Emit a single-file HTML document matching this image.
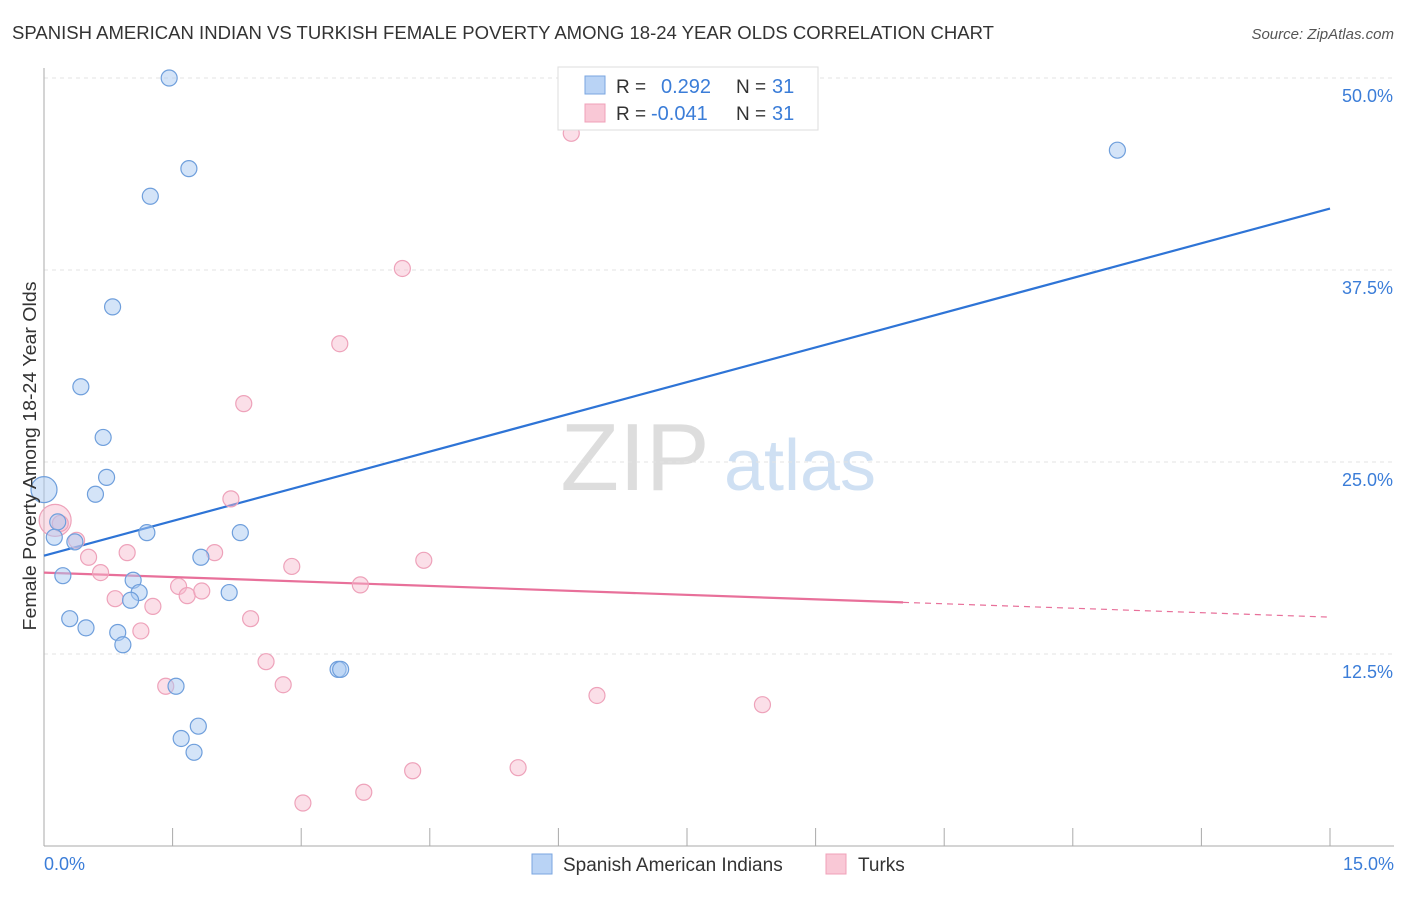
<!DOCTYPE html>
<html><head><meta charset="utf-8"><style>
body{margin:0;background:#fff;font-family:"Liberation Sans",sans-serif;}
svg text{font-family:"Liberation Sans",sans-serif;}
</style></head><body>
<svg id="chart" width="1406" height="892" xmlns="http://www.w3.org/2000/svg">
<text x="12" y="39" font-size="18" fill="#333" textLength="982" lengthAdjust="spacingAndGlyphs">SPANISH AMERICAN INDIAN VS TURKISH FEMALE POVERTY AMONG 18-24 YEAR OLDS CORRELATION CHART</text>
<text x="1394" y="39" font-size="15" fill="#555" text-anchor="end" font-style="italic">Source: ZipAtlas.com</text>
<text x="635" y="490" font-size="96" fill="#ddd" font-family="Liberation Serif" text-anchor="middle">ZIP</text>
<text x="800" y="490" font-size="72" fill="#cfe0f3" text-anchor="middle">atlas</text>
<g id="grid"></g><g id="axes"></g><g id="trends"></g><g id="points"></g>
<text x="36" y="456" font-size="18" fill="#333" text-anchor="middle" textLength="349" lengthAdjust="spacingAndGlyphs" transform="rotate(-90 36 456)">Female Poverty Among 18-24 Year Olds</text>
<text x="44" y="870" font-size="18" fill="#3b7dd8">0.0%</text>
<text x="1394" y="870" font-size="18" fill="#3b7dd8" text-anchor="end">15.0%</text>
<g>
<rect x="558" y="67" width="260" height="63" fill="#fff" stroke="#ddd"/>
<rect x="585" y="76" width="20" height="18" fill="#b9d3f5" stroke="#7aa6e0"/>
<rect x="585" y="104" width="20" height="18" fill="#f9c8d6" stroke="#f0a0b8"/>
<text x="616" y="93" font-size="19" fill="#333">R = </text><text x="661" y="93" font-size="20" fill="#3b7dd8">0.292</text>
<text x="736" y="93" font-size="19" fill="#333">N = </text><text x="772" y="93" font-size="20" fill="#3b7dd8">31</text>
<text x="616" y="120" font-size="19" fill="#333">R = </text><text x="651" y="120" font-size="20" fill="#3b7dd8">-0.041</text>
<text x="736" y="120" font-size="19" fill="#333">N = </text><text x="772" y="120" font-size="20" fill="#3b7dd8">31</text>
</g>
<g>
<rect x="532" y="854" width="20" height="20" fill="#b9d3f5" stroke="#7aa6e0"/>
<text x="563" y="871" font-size="19" fill="#333">Spanish American Indians</text>
<rect x="826" y="854" width="20" height="20" fill="#f9c8d6" stroke="#f0a0b8"/>
<text x="858" y="871" font-size="19" fill="#333">Turks</text>
</g>
</svg>
<script>
const yTicks=[12.5,25,37.5,50];
const yTickLabels=["12.5%","25.0%","37.5%","50.0%"];
const blueX=[1.46,1.69,1.24,0.80,0.43,0.69,0.73,0.60,0.0,0.16,0.12,0.36,1.20,2.29,1.83,0.22,1.04,1.11,1.01,2.16,0.30,0.49,0.86,0.92,3.43,3.46,1.54,1.80,1.60,1.75,12.52];
const blueY=[50.0,44.1,42.3,35.1,29.9,26.6,24.0,22.9,23.2,21.1,20.1,19.8,20.4,20.4,18.8,17.6,17.3,16.5,16.0,16.5,14.8,14.2,13.9,13.1,11.5,11.5,10.4,7.8,7.0,6.1,45.3];
const blueR=[8,8,8,8,8,8,8,8,13,8,8,8,8,8,8,8,8,8,8,8,8,8,8,8,8,8,8,8,8,8,8];
const pinkX=[6.15,4.18,3.45,2.33,2.18,0.13,0.19,0.38,0.52,0.97,1.99,0.66,2.89,4.43,3.69,1.57,1.67,1.84,0.83,1.27,2.41,1.13,2.59,1.42,2.79,6.45,8.38,4.30,5.53,3.73,3.02];
const pinkY=[46.4,37.6,32.7,28.8,22.6,21.2,21.0,19.9,18.8,19.1,19.1,17.8,18.2,18.6,17.0,16.9,16.3,16.6,16.1,15.6,14.8,14.0,12.0,10.4,10.5,9.8,9.2,4.9,5.1,3.5,2.8];
const pinkR=[8,8,8,8,8,16,8,8,8,8,8,8,8,8,8,8,8,8,8,8,8,8,8,8,8,8,8,8,8,8,8];
const blueTrend=[18.9,41.5];
const pinkTrend=[17.8,14.9];
const pinkSolidEnd=10.02;
const NS="http://www.w3.org/2000/svg";
const xs=v=>44+v*(1286/15), ys=v=>846-v*15.36;
function mk(t,a,p){const e=document.createElementNS(NS,t);for(const k in a)e.setAttribute(k,a[k]);document.getElementById(p).appendChild(e);return e;}
yTicks.forEach((t,i)=>{
 const l=mk('line',{x1:44,x2:1394,y1:ys(t),y2:ys(t),stroke:'#e3e3e3','stroke-dasharray':'4,4'},'grid');
 
 
 const tx=mk('text',{x:1393,y:ys(t)+24,'font-size':18,fill:'#3b7dd8','text-anchor':'end'},'grid');
 tx.textContent=yTickLabels[i];
 
 
});
let ax=mk('line',{x1:44,x2:1394,y1:846,y2:846,stroke:'#aaa'},'axes');


let ay=mk('line',{x1:44,x2:44,y1:68,y2:846,stroke:'#aaa'},'axes');


for(let i=0;i<=10;i++){const x=xs(i*1.5);const t=mk('line',{x1:x,x2:x,y1:828,y2:846,stroke:'#aaa'},'axes');
 
 }
function dots(X,Y,R,fill,stroke,name){X.forEach((x,i)=>{const c=mk('circle',{cx:xs(x),cy:ys(Y[i]),r:R[i],fill:fill,stroke:stroke,'stroke-width':1.2},'points');
 
 });}
dots(pinkX,pinkY,pinkR,'rgba(246,185,205,0.45)','#eea2ba','turks-point');
dots(blueX,blueY,blueR,'rgba(170,202,242,0.5)','#6f9fdc','spanish-point');
let bt=mk('line',{x1:xs(0),y1:ys(blueTrend[0]),x2:xs(15),y2:ys(blueTrend[1]),stroke:'#2e74d6','stroke-width':2.2},'trends');


const pm=pinkTrend[0]+(pinkTrend[1]-pinkTrend[0])*pinkSolidEnd/15;
let pt=mk('line',{x1:xs(0),y1:ys(pinkTrend[0]),x2:xs(pinkSolidEnd),y2:ys(pm),stroke:'#e8709a','stroke-width':2.2},'trends');


let pd=mk('line',{x1:xs(pinkSolidEnd),y1:ys(pm),x2:xs(15),y2:ys(pinkTrend[1]),stroke:'#e8709a','stroke-width':1.2,'stroke-dasharray':'6,5'},'trends');


</script>
</body></html>
